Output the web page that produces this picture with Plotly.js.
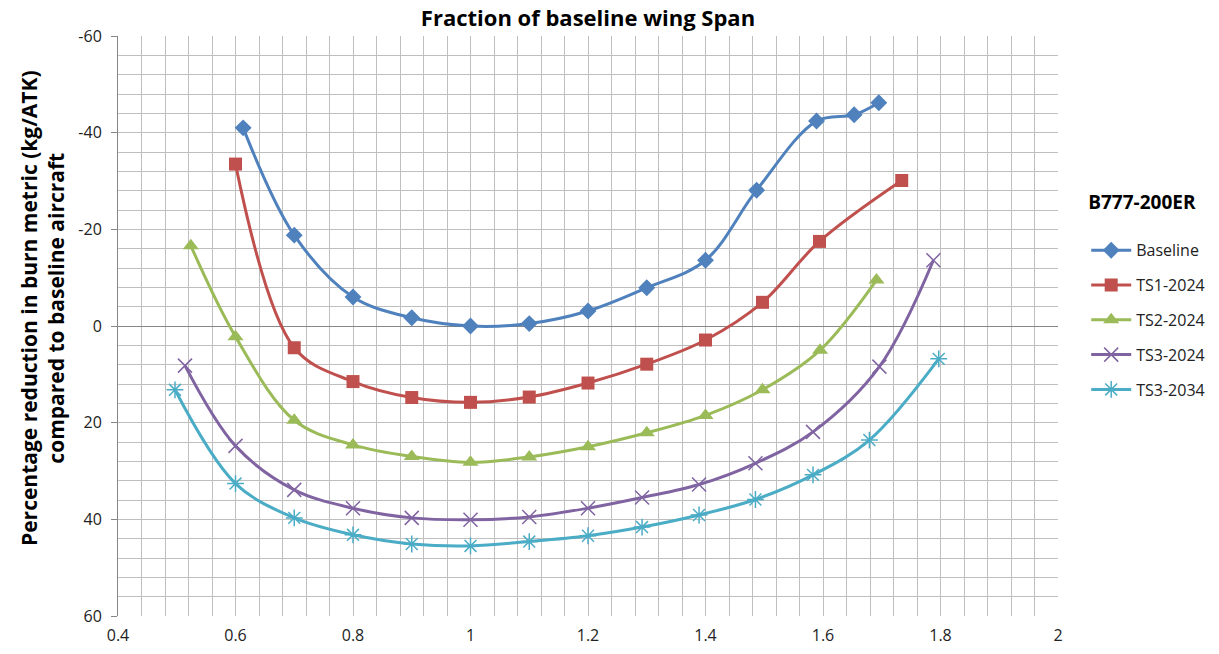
<!DOCTYPE html>
<html>
<head>
<meta charset="utf-8">
<script src="https://cdn.plot.ly/plotly-3.0.1.min.js"></script>
<style>html,body{margin:0;padding:0;background:#fff;}#chart{width:1219px;height:654px;}</style>
</head>
<body>
<div id="chart"></div>
<script>
const seriesNames = ["Baseline", "TS1-2024", "TS2-2024", "TS3-2024", "TS3-2034"];

const baselineX = [0.613, 0.7, 0.8, 0.9, 1.0, 1.1, 1.2, 1.3, 1.4, 1.487, 1.589, 1.653, 1.695];
const baselineY = [-41, -18.8, -6.0, -1.7, 0, -0.5, -3.1, -7.9, -13.6, -28.1, -42.4, -43.7, -46.2];

const ts1_2024X = [0.6, 0.7, 0.8, 0.9, 1.0, 1.1, 1.2, 1.3, 1.4, 1.497, 1.594, 1.734];
const ts1_2024Y = [-33.5, 4.5, 11.5, 14.8, 15.8, 14.7, 11.8, 7.9, 2.9, -4.9, -17.5, -30.1];

const ts2_2024X = [0.524, 0.6, 0.7, 0.8, 0.9, 1.0, 1.1, 1.2, 1.3, 1.4, 1.497, 1.595, 1.691];
const ts2_2024Y = [-16.6, 2.2, 19.5, 24.6, 27.0, 28.2, 27.1, 25.0, 22.1, 18.5, 13.2, 5.0, -9.5];

const ts3_2024X = [0.514, 0.6, 0.7, 0.8, 0.9, 1.0, 1.1, 1.2, 1.292, 1.389, 1.485, 1.583, 1.696, 1.788];
const ts3_2024Y = [8.2, 24.8, 33.9, 37.7, 39.7, 40.1, 39.5, 37.7, 35.5, 32.8, 28.4, 21.9, 8.4, -13.6];

const ts3_2034X = [0.497, 0.6, 0.7, 0.8, 0.9, 1.0, 1.1, 1.2, 1.292, 1.389, 1.485, 1.583, 1.679, 1.797];
const ts3_2034Y = [13.2, 32.6, 39.7, 43.2, 45.1, 45.5, 44.6, 43.4, 41.6, 39.1, 35.9, 30.8, 23.6, 6.8];

const yTickVals = [-60, -40, -20, 0, 20, 40, 60];
const yTickText = ["-60", "-40", "-20", "0", "20", "40", "60"];
const xTickVals = [0.4, 0.6, 0.8, 1.0, 1.2, 1.4, 1.6, 1.8, 2.0];
const xTickText = ["0.4", "0.6", "0.8", "1", "1.2", "1.4", "1.6", "1.8", "2"];

const allX = [baselineX, ts1_2024X, ts2_2024X, ts3_2024X, ts3_2034X];
const allY = [baselineY, ts1_2024Y, ts2_2024Y, ts3_2024Y, ts3_2034Y];
const colors = ["#4F81BD", "#C0504D", "#9BBB59", "#8064A2", "#4BACC6"];
const symbols = ["diamond", "square", "triangle-up", "x-thin-open", "asterisk-open"];
const sizes = [13, 13, 14, 14, 14];

const FONT = "'Open Sans', Lato, sans-serif";

// invisible carrier so the fine-grid overlay axes exist
const gridCarrier = {type: "scatter", mode: "lines", x: [null], y: [null], xaxis: "x2", yaxis: "y2",
                     showlegend: false, hoverinfo: "skip"};

const traces = [gridCarrier].concat(seriesNames.map((name, i) => ({
  type: "scatter",
  mode: "lines+markers",
  name: name,
  legendgroup: "g" + i,
  x: allX[i],
  y: allY[i],
  line: {color: colors[i], width: 3, shape: "spline", smoothing: 1},
  marker: {symbol: symbols[i], size: sizes[i], color: colors[i],
           line: {color: colors[i], width: (i >= 3 ? 1.5 : 0)}}
})));

const gridColor = "#BFBFBF";
const layout = {
  width: 1219, height: 654,
  paper_bgcolor: "#fff", plot_bgcolor: "#fff",
  margin: {l: 118, r: 161, t: 36, b: 38, autoexpand: false},
  font: {family: FONT, size: 16, color: "#000"},
  title: {text: "<b>Fraction of baseline wing Span</b>", font: {family: FONT, size: 22, color: "#000"},
          x: 0.5, xref: "paper", xanchor: "center", y: 1 - 18 / 654, yref: "container", yanchor: "middle"},
  xaxis: {
    range: [0.4, 2], tickmode: "array", tickvals: xTickVals, ticktext: xTickText,
    showgrid: true, gridcolor: gridColor, gridwidth: 1,
    zeroline: false, showline: false,
    ticks: "", ticklabelstandoff: 8, tickfont: {family: FONT, size: 16, color: "#222"},
    fixedrange: true
  },
  yaxis: {
    range: [60, -60], tickmode: "array", tickvals: yTickVals, ticktext: yTickText,
    showgrid: true, gridcolor: gridColor, gridwidth: 1,
    zeroline: true, zerolinecolor: "#868686", zerolinewidth: 1,
    showline: true, linecolor: "#868686", linewidth: 1,
    ticks: "outside", ticklen: 6, tickcolor: "#868686", ticklabelstandoff: 6,
    tickfont: {family: FONT, size: 16, color: "#222"},
    fixedrange: true
  },
  xaxis2: {
    overlaying: "x", anchor: "y", range: [0.4, 2], tick0: 0.4, dtick: 0.04,
    showgrid: true, gridcolor: gridColor, gridwidth: 1,
    showticklabels: false, ticks: "", zeroline: false, showline: false, fixedrange: true
  },
  yaxis2: {
    overlaying: "y", anchor: "x", range: [60, -60], tick0: -60, dtick: 4,
    showgrid: true, gridcolor: gridColor, gridwidth: 1,
    showticklabels: false, ticks: "", zeroline: false, showline: false, fixedrange: true
  },
  annotations: [{
    text: "<b>Percentage reduction in burn metric (kg/ATK)<br>compared to baseline aircraft</b>",
    font: {family: FONT, size: 21, color: "#000"},
    textangle: -90, showarrow: false,
    xref: "paper", yref: "paper", x: (42 - 118) / 940, y: (616 - 308) / 580,
    xanchor: "center", yanchor: "middle", align: "center"
  }],
  legend: {
    x: 1.03, xanchor: "left", y: 0.745, yanchor: "top",
    title: {text: "<b>B777-200ER</b><br> ", font: {family: FONT, size: 19, color: "#000"}, side: "top"},
    font: {family: FONT, size: 16, color: "#222"},
    traceorder: "grouped", tracegroupgap: 11,
    itemwidth: 40, bgcolor: "rgba(0,0,0,0)"
  },
  showlegend: true
};

Plotly.newPlot("chart", traces, layout, {displayModeBar: false, staticPlot: true});
</script>
</body>
</html>
